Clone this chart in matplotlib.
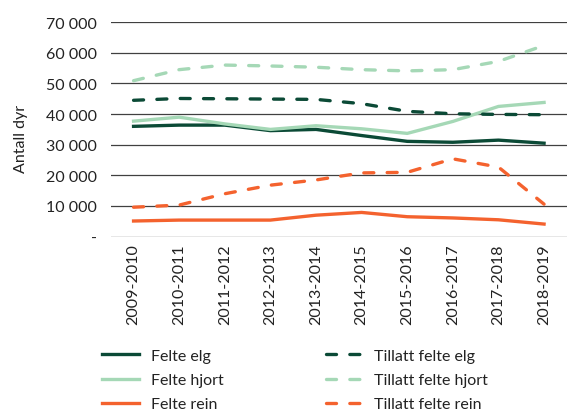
import numpy as np
import matplotlib.pyplot as plt
from matplotlib.ticker import FuncFormatter

plt.rcParams['font.family'] = ['Lato', 'DejaVu Sans']

# sesonger
seasons = ['2009-2010', '2010-2011', '2011-2012', '2012-2013', '2013-2014',
           '2014-2015', '2015-2016', '2016-2017', '2017-2018', '2018-2019']

felte_elg = [36000, 36400, 36400, 34600, 35000, 33000, 31100, 30800, 31500, 30500]
felte_hjort = [37700, 39000, 36800, 35000, 36200, 35200, 33700, 37600, 42500, 43800]
felte_rein = [5100, 5400, 5400, 5400, 7000, 7900, 6500, 6100, 5500, 4100]
tillatt_elg = [44500, 45100, 45000, 44900, 44800, 43400, 40900, 40100, 39900, 39800]
tillatt_hjort = [50900, 54500, 56000, 55700, 55300, 54500, 54100, 54500, 57200, 62400]
tillatt_rein = [9600, 10300, 14000, 16800, 18500, 20800, 21000, 25400, 22700, 10600]

dark = '#0b4a36'
light = '#a5d8b6'
orange = '#f4622e'

fig = plt.figure(figsize=(5.68, 4.14), dpi=100)
ax = fig.add_axes([0.195, 0.426, 0.803, 0.518])

x = np.arange(len(seasons))
lw = 2.4
dash = (3.0, 4.0)

h1, = ax.plot(x, felte_elg, color=dark, lw=lw, label='Felte elg')
h2, = ax.plot(x, felte_hjort, color=light, lw=lw, label='Felte hjort')
h3, = ax.plot(x, felte_rein, color=orange, lw=lw, label='Felte rein')
h4, = ax.plot(x, tillatt_elg, color=dark, lw=lw, ls=(0, dash),
              dash_capstyle='round', label='Tillatt felte elg')
h5, = ax.plot(x, tillatt_hjort, color=light, lw=lw, ls=(0, dash),
              dash_capstyle='round', label='Tillatt felte hjort')
h6, = ax.plot(x, tillatt_rein, color=orange, lw=lw, ls=(0, dash),
              dash_capstyle='round', label='Tillatt felte rein')


def fmt(v, pos):
    if v == 0:
        return '-'
    return '{:,.0f}'.format(v).replace(',', ' ')


ax.set_xlim(-0.5, len(seasons) - 0.5)
ax.set_ylim(0, 70000)
ax.set_yticks(np.arange(0, 70001, 10000))
ax.yaxis.set_major_formatter(FuncFormatter(fmt))
ax.set_xticks(x)
ax.set_xticklabels(seasons, rotation=90)
ax.tick_params(length=0, labelsize=11.5, colors='#222222')
ax.tick_params(axis='y', pad=10)
ax.tick_params(axis='x', pad=5)
ax.grid(axis='y', color='#404040', lw=0.9)
ax.set_axisbelow(True)
for s in ax.spines.values():
    s.set_visible(False)
fig.text(21 / 568, 1 - 139 / 414, 'Antall dyr', rotation=90, fontsize=11.5,
         color='#222222', ha='center', va='center')

fig.legend(handles=[h1, h2, h3, h4, h5, h6], ncol=2, frameon=False,
           loc='center left', bbox_to_anchor=(0.168, 1 - 381 / 414), fontsize=11.5,
           handlelength=2.3, handletextpad=0.75, columnspacing=6.4,
           labelspacing=0.62, labelcolor='#222222', borderaxespad=0)

fig.savefig('out.png', dpi=100)
